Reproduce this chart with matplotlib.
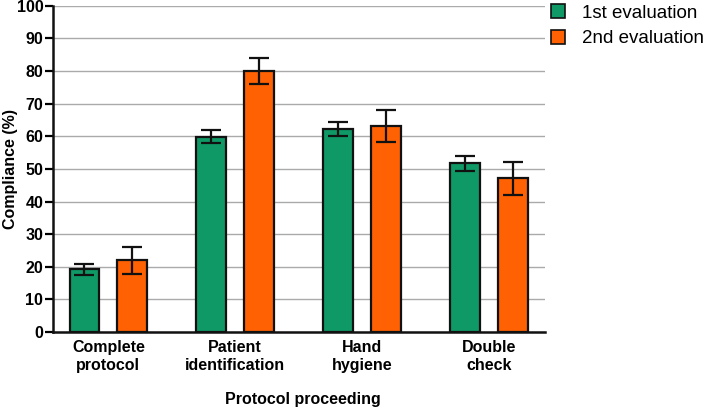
import matplotlib
matplotlib.use("Agg")
import matplotlib.pyplot as plt
import numpy as np
from matplotlib.patches import Patch

plt.rcParams['font.family'] = ['Liberation Sans', 'DejaVu Sans']

categories = ["Complete\nprotocol", "Patient\nidentification", "Hand\nhygiene", "Double\ncheck"]
first_eval = [19.2, 59.9, 62.3, 51.7]
first_err = [1.7, 2.1, 2.1, 2.2]
second_eval = [22.0, 80.0, 63.1, 47.1]
second_err = [4.2, 4.1, 5.0, 5.0]
series_names = ["1st evaluation", "2nd evaluation"]
colors = ["#0F9966", "#FF6103"]

fig = plt.figure(figsize=(7.07, 4.08), dpi=100)
ax = fig.add_axes([0.075, 0.186, 0.696, 0.800])

x = np.arange(len(categories))
w = 0.236
off = 0.189
err_kw = dict(ecolor="#111111", elinewidth=1.6, capsize=7, capthick=1.6)
ax.bar(x - off, first_eval, w, yerr=first_err, color=colors[0], edgecolor="#111111",
       linewidth=1.6, error_kw=err_kw, zorder=3)
ax.bar(x + off, second_eval, w, yerr=second_err, color=colors[1], edgecolor="#111111",
       linewidth=1.6, error_kw=err_kw, zorder=3)

ax.set_xlim(-0.437, 3.445)
ax.set_ylim(0, 100)
ax.set_yticks(np.arange(0, 101, 10))
ax.yaxis.grid(True, color="#aaaaaa", linewidth=1.0, zorder=0)
ax.set_axisbelow(True)
for s in ["top", "right"]:
    ax.spines[s].set_visible(False)
for s in ["left", "bottom"]:
    ax.spines[s].set_linewidth(1.8)
    ax.spines[s].set_color("#111111")
ax.tick_params(axis="y", length=6, width=1.6, labelsize=11.5, pad=1)
ax.tick_params(axis="x", length=0, labelsize=11.5, pad=6)
for lab in ax.get_yticklabels():
    lab.set_fontweight("bold")
ax.set_xticks(x)
ax.set_xticklabels(categories, fontweight="bold", linespacing=1.2)

ax.set_ylabel("Compliance (%)", fontsize=11.5, fontweight="bold")
ax.yaxis.set_label_coords(-0.071, 0.5)
ax.set_xlabel("Protocol proceeding", fontsize=11.5, fontweight="bold")
ax.xaxis.set_label_coords(0.508, -0.182)

handles = [Patch(facecolor=colors[i], edgecolor="#111111", linewidth=1.2) for i in range(2)]
fig.legend(handles, series_names, loc="upper left", bbox_to_anchor=(0.779, 0.989),
           frameon=False, fontsize=13.5, handlelength=0.75, handleheight=0.75,
           handletextpad=0.9, labelspacing=0.42, borderpad=0, borderaxespad=0)

fig.savefig("out.png", dpi=100)
